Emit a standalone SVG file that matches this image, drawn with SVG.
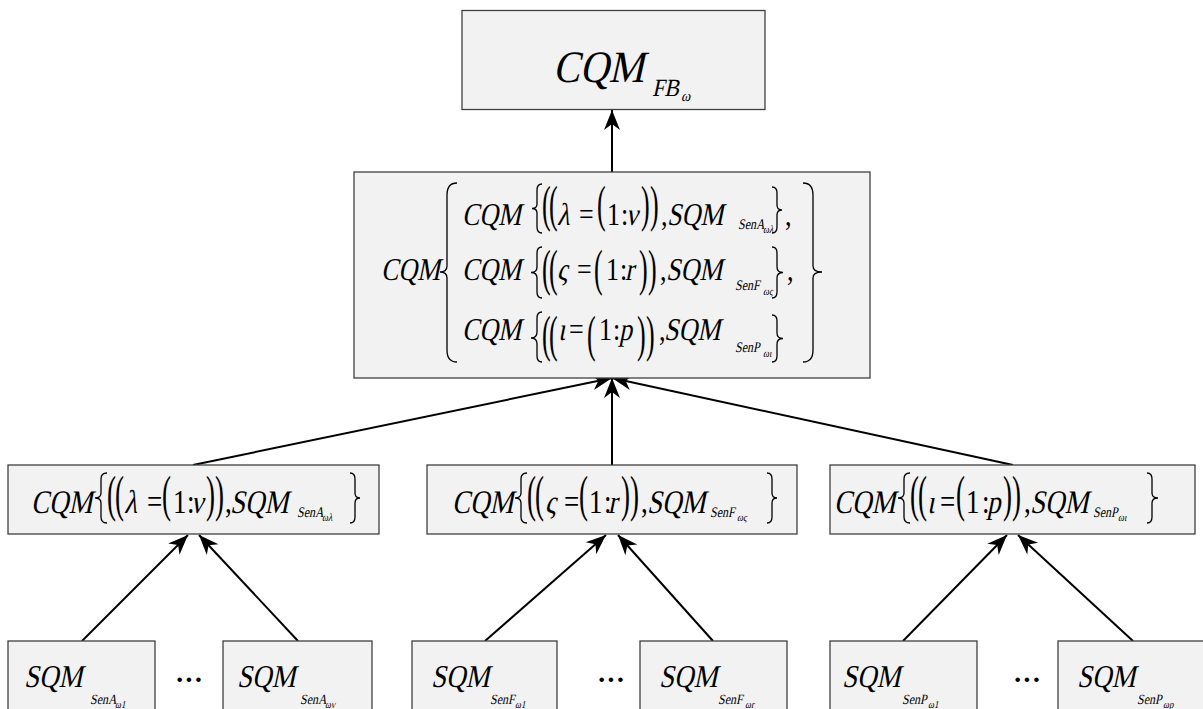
<svg xmlns="http://www.w3.org/2000/svg" width="1203" height="709" viewBox="0 0 1203 709">
<style>
.box{fill:#f2f2f2;stroke:#404040;stroke-width:1.3}
.it{fill:#000}
.rm{fill:#000}
.br{fill:none;stroke:#000;stroke-width:1.3}
.cn{stroke:#000;stroke-width:2;fill:none;marker-end:url(#ah)}
.dots{font-weight:bold;font-size:28px;fill:#000}
</style>
<defs>
<marker id="ah" markerUnits="userSpaceOnUse" markerWidth="24" markerHeight="20" viewBox="-22 -10 24 20" refX="0" refY="0" orient="auto">
<path d="M0,0 L-20,-8 L-14,0 L-20,8 Z" fill="#000"/>
</marker>
</defs>
<rect width="1203" height="709" fill="#fff"/>

<g id="connectors">
<line class="cn" x1="612" y1="172" x2="612" y2="110"/>
<line class="cn" x1="193" y1="465" x2="612" y2="378"/>
<line class="cn" x1="612" y1="465" x2="612" y2="378"/>
<line class="cn" x1="1013" y1="465" x2="612" y2="378"/>
<line class="cn" x1="82" y1="641" x2="188" y2="535"/>
<line class="cn" x1="298" y1="641" x2="199" y2="535"/>
<line class="cn" x1="485" y1="641" x2="606" y2="535"/>
<line class="cn" x1="713" y1="641" x2="618" y2="535"/>
<line class="cn" x1="903" y1="641" x2="1007" y2="535"/>
<line class="cn" x1="1133" y1="641" x2="1018" y2="535"/>
</g>

<g font-family="Liberation Serif">
<g id="top">
<rect class="box" x="462" y="10.5" width="303" height="99"/>
<text class="it" font-size="40" transform="translate(553,82) scale(1,1.12) skewX(-14)">CQM</text>
<text class="it" font-size="22" transform="translate(652,96) scale(1,1.12) skewX(-14)">FB</text>
<text class="it" font-size="14" transform="translate(681,101) scale(1,1.12) skewX(-14)">ω</text>
</g>

<g id="mid">
<rect class="box" x="354" y="172" width="516" height="206"/>
<text class="it" font-size="26" transform="translate(381,280) scale(1,1.22) skewX(-14)">CQM</text>
<path class="br" d="M457,183 Q447,183 447,195 L447,266 Q447,272 440,272 Q447,272 447,278 L447,350 Q447,362 457,362"/>
<path class="br" d="M803,183 Q813,183 813,195 L813,266 Q813,272 822,272 Q813,272 813,278 L813,350 Q813,362 803,362"/>
<g transform="translate(0,225) scale(1,1.22)">
<text class="rm" font-size="26"><tspan x="579">=</tspan><tspan x="607">1</tspan><tspan x="621">:</tspan><tspan x="661">,</tspan><tspan x="785">,</tspan></text>
<text class="it" font-size="26" transform="skewX(-14)"><tspan x="462">CQM</tspan><tspan x="557">λ</tspan><tspan x="626">ν</tspan><tspan x="667">SQM</tspan></text>
</g>
<g class="rm" font-size="26"><text transform="translate(542,221) scale(1,1.94)">(</text><text transform="translate(549,221) scale(1,1.94)">(</text><text transform="translate(597,221) scale(1,1.94)">(</text><text transform="translate(641,221) scale(1,1.94)">)</text><text transform="translate(650,221) scale(1,1.94)">)</text></g>
<text class="it" font-size="12" transform="translate(738,229) scale(1,1.22) skewX(-14)">SenA</text>
<text class="it" font-size="9" transform="translate(763,233) scale(1,1.22) skewX(-14)">ωλ</text>
<path class="br" d="M542,184 Q537,184 537,190 L537,204 Q537,208.5 532,208.5 Q537,208.5 537,213 L537,227 Q537,233 542,233"/>
<path class="br" d="M772,187 Q777,187 777,193 L777,205 Q777,210 782,210 Q777,210 777,215 L777,227 Q777,233 772,233"/>
<g transform="translate(0,280) scale(1,1.22)">
<text class="rm" font-size="26"><tspan x="577">=</tspan><tspan x="606">1</tspan><tspan x="620">:</tspan><tspan x="660">,</tspan><tspan x="787">,</tspan></text>
<text class="it" font-size="26" transform="skewX(-14)"><tspan x="462">CQM</tspan><tspan x="557">ς</tspan><tspan x="625">r</tspan><tspan x="666">SQM</tspan></text>
</g>
<g class="rm" font-size="26"><text transform="translate(542,285) scale(1,1.94)">(</text><text transform="translate(549,285) scale(1,1.94)">(</text><text transform="translate(594,285) scale(1,1.94)">(</text><text transform="translate(639,285) scale(1,1.94)">)</text><text transform="translate(648,285) scale(1,1.94)">)</text></g>
<text class="it" font-size="12" transform="translate(735,290) scale(1,1.22) skewX(-14)">SenF</text>
<text class="it" font-size="9" transform="translate(763,295) scale(1,1.22) skewX(-14)">ως</text>
<path class="br" d="M542,247 Q537,247 537,253 L537,267 Q537,272.5 531,272.5 Q537,272.5 537,278 L537,292 Q537,298 542,298"/>
<path class="br" d="M772,247 Q777,247 777,253 L777,267 Q777,272.5 783,272.5 Q777,272.5 777,278 L777,292 Q777,298 772,298"/>
<g transform="translate(0,340) scale(1,1.22)">
<text class="rm" font-size="26"><tspan x="569">=</tspan><tspan x="599">1</tspan><tspan x="613">:</tspan><tspan x="659">,</tspan></text>
<text class="it" font-size="26" transform="skewX(-14)"><tspan x="462">CQM</tspan><tspan x="558">ι</tspan><tspan x="619">p</tspan><tspan x="664">SQM</tspan></text>
</g>
<g class="rm" font-size="26"><text transform="translate(542,351) scale(1,1.94)">(</text><text transform="translate(549,351) scale(1,1.94)">(</text><text transform="translate(587,351) scale(1,1.94)">(</text><text transform="translate(637,351) scale(1,1.94)">)</text><text transform="translate(646,351) scale(1,1.94)">)</text></g>
<text class="it" font-size="12" transform="translate(735,352) scale(1,1.22) skewX(-14)">SenP</text>
<text class="it" font-size="9" transform="translate(763,357) scale(1,1.22) skewX(-14)">ωι</text>
<path class="br" d="M542,312 Q537,312 537,318 L537,332 Q537,338 531,338 Q537,338 537,344 L537,356 Q537,362 542,362"/>
<path class="br" d="M772,315 Q777,315 777,321 L777,333 Q777,338.5 783,338.5 Q777,338.5 777,344 L777,356 Q777,362 772,362"/>
</g>

<g id="cA">
<rect class="box" x="8" y="465" width="371" height="69"/>
<g transform="translate(0,513) scale(1,1.22)">
<text class="rm" font-size="27"><tspan x="147">=</tspan><tspan x="173">1</tspan><tspan x="187">:</tspan><tspan x="225">,</tspan></text>
<text class="it" font-size="27" transform="skewX(-14)"><tspan x="31">CQM</tspan><tspan x="124">λ</tspan><tspan x="191">ν</tspan><tspan x="230">SQM</tspan></text>
</g>
<g class="rm" font-size="27"><text transform="translate(107,511) scale(1,1.87)">(</text><text transform="translate(115,511) scale(1,1.87)">(</text><text transform="translate(162,511) scale(1,1.87)">(</text><text transform="translate(206,511) scale(1,1.87)">)</text><text transform="translate(215,511) scale(1,1.87)">)</text></g>
<text class="it" font-size="12" transform="translate(297,517) scale(1,1.22) skewX(-14)">SenA</text>
<text class="it" font-size="9" transform="translate(322,521) scale(1,1.22) skewX(-14)">ωλ</text>
<path class="br" d="M107,473 Q101,473 101,479 L101,493 Q101,498 95,498 Q101,498 101,503 L101,517 Q101,523 107,523"/>
<path class="br" d="M350,473 Q355,473 355,479 L355,493 Q355,498 360,498 Q355,498 355,503 L355,517 Q355,523 350,523"/>
</g>

<g id="cF">
<rect class="box" x="427" y="465" width="370" height="69"/>
<g transform="translate(0,513) scale(1,1.22)">
<text class="rm" font-size="27"><tspan x="564">=</tspan><tspan x="589">1</tspan><tspan x="604">:</tspan><tspan x="641">,</tspan></text>
<text class="it" font-size="27" transform="skewX(-14)"><tspan x="452">CQM</tspan><tspan x="545">ς</tspan><tspan x="608">r</tspan><tspan x="647">SQM</tspan></text>
</g>
<g class="rm" font-size="27"><text transform="translate(527,511) scale(1,1.87)">(</text><text transform="translate(535,511) scale(1,1.87)">(</text><text transform="translate(579,511) scale(1,1.87)">(</text><text transform="translate(621,511) scale(1,1.87)">)</text><text transform="translate(630,511) scale(1,1.87)">)</text></g>
<text class="it" font-size="12" transform="translate(710,517) scale(1,1.22) skewX(-14)">SenF</text>
<text class="it" font-size="9" transform="translate(737,521) scale(1,1.22) skewX(-14)">ως</text>
<path class="br" d="M527,473 Q521,473 521,479 L521,493 Q521,498 515,498 Q521,498 521,503 L521,517 Q521,523 527,523"/>
<path class="br" d="M767,473 Q772,473 772,479 L772,493 Q772,498 777,498 Q772,498 772,503 L772,517 Q772,523 767,523"/>
</g>

<g id="cP">
<rect class="box" x="830" y="465" width="365" height="69"/>
<g transform="translate(0,513) scale(1,1.22)">
<text class="rm" font-size="27"><tspan x="940">=</tspan><tspan x="966">1</tspan><tspan x="982">:</tspan><tspan x="1024">,</tspan></text>
<text class="it" font-size="27" transform="skewX(-14)"><tspan x="834">CQM</tspan><tspan x="927">ι</tspan><tspan x="987">p</tspan><tspan x="1030">SQM</tspan></text>
</g>
<g class="rm" font-size="27"><text transform="translate(910,511) scale(1,1.87)">(</text><text transform="translate(918,511) scale(1,1.87)">(</text><text transform="translate(956,511) scale(1,1.87)">(</text><text transform="translate(1003,511) scale(1,1.87)">)</text><text transform="translate(1012,511) scale(1,1.87)">)</text></g>
<text class="it" font-size="12" transform="translate(1093,517) scale(1,1.22) skewX(-14)">SenP</text>
<text class="it" font-size="9" transform="translate(1118,521) scale(1,1.22) skewX(-14)">ωι</text>
<path class="br" d="M910,473 Q904,473 904,479 L904,493 Q904,498 898,498 Q904,498 904,503 L904,517 Q904,523 910,523"/>
<path class="br" d="M1147,473 Q1152,473 1152,479 L1152,493 Q1152,498 1158,498 Q1152,498 1152,503 L1152,517 Q1152,523 1147,523"/>
</g>

<g id="sA1">
<rect class="box" x="8" y="641" width="147" height="80"/>
<text class="it" font-size="27" transform="translate(24,687) scale(1,1.18) skewX(-14)">SQM</text>
<text class="it" font-size="12" transform="translate(90,704) scale(1,1.18) skewX(-14)">SenA</text>
<text class="it" font-size="9" transform="translate(115,708) scale(1,1.18) skewX(-14)">ω1</text>
</g>
<text class="dots" x="175" y="689">···</text>
<g id="sAv">
<rect class="box" x="223" y="641" width="149" height="80"/>
<text class="it" font-size="27" transform="translate(237,687) scale(1,1.18) skewX(-14)">SQM</text>
<text class="it" font-size="12" transform="translate(300,704) scale(1,1.18) skewX(-14)">SenA</text>
<text class="it" font-size="9" transform="translate(325,708) scale(1,1.18) skewX(-14)">ων</text>
</g>

<g id="sF1">
<rect class="box" x="412" y="641" width="145" height="80"/>
<text class="it" font-size="27" transform="translate(431,687) scale(1,1.18) skewX(-14)">SQM</text>
<text class="it" font-size="12" transform="translate(490,704) scale(1,1.18) skewX(-14)">SenF</text>
<text class="it" font-size="9" transform="translate(515,708) scale(1,1.18) skewX(-14)">ω1</text>
</g>
<text class="dots" x="597" y="689">···</text>
<g id="sFr">
<rect class="box" x="640" y="641" width="147" height="80"/>
<text class="it" font-size="27" transform="translate(659,687) scale(1,1.18) skewX(-14)">SQM</text>
<text class="it" font-size="12" transform="translate(718,704) scale(1,1.18) skewX(-14)">SenF</text>
<text class="it" font-size="9" transform="translate(745,708) scale(1,1.18) skewX(-14)">ωr</text>
</g>

<g id="sP1">
<rect class="box" x="830" y="641" width="147" height="80"/>
<text class="it" font-size="27" transform="translate(842,687) scale(1,1.18) skewX(-14)">SQM</text>
<text class="it" font-size="12" transform="translate(902,704) scale(1,1.18) skewX(-14)">SenP</text>
<text class="it" font-size="9" transform="translate(928,708) scale(1,1.18) skewX(-14)">ω1</text>
</g>
<text class="dots" x="1013" y="689">···</text>
<g id="sPp">
<rect class="box" x="1058" y="641" width="150" height="80"/>
<text class="it" font-size="27" transform="translate(1077,687) scale(1,1.18) skewX(-14)">SQM</text>
<text class="it" font-size="12" transform="translate(1137,704) scale(1,1.18) skewX(-14)">SenP</text>
<text class="it" font-size="9" transform="translate(1163,708) scale(1,1.18) skewX(-14)">ωp</text>
</g>
</g>
</svg>
